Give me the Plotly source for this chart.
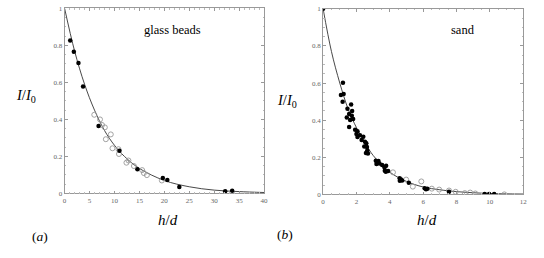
import plotly.graph_objects as go

# ---- panel (a): glass beads ----
a_filled_x = [1.12, 1.85, 2.78, 3.70, 6.81, 11.0, 14.6, 19.7, 20.6, 23.0, 32.2, 33.6]
a_filled_y = [0.827, 0.766, 0.705, 0.578, 0.365, 0.23, 0.131, 0.084, 0.072, 0.035, 0.012, 0.014]
a_open_x = [5.95, 7.1, 7.5, 8.07, 8.27, 9.26, 9.6, 10.8, 10.9, 12.4, 12.8, 13.9, 15.55, 15.9, 16.5, 19.5]
a_open_y = [0.425, 0.40, 0.37, 0.357, 0.293, 0.319, 0.244, 0.239, 0.213, 0.166, 0.178, 0.148, 0.126, 0.11, 0.099, 0.07]
a_fit_x = [0, 2, 4, 6, 8, 10, 12, 15, 20, 25, 30, 35, 40]
a_fit_y = [1.0, 0.77, 0.59, 0.45, 0.34, 0.26, 0.20, 0.135, 0.07, 0.036, 0.018, 0.01, 0.005]

# ---- panel (b): sand ----
b_filled_x = [0.0, 1.19, 1.07, 1.23, 1.17, 1.46, 1.68, 1.42, 1.56, 1.62, 1.56, 1.72, 1.74, 1.80,
              1.92, 2.06, 2.06, 2.00, 2.21, 2.31, 2.41, 2.51, 2.47, 2.59, 2.63, 2.65, 2.57, 2.69,
              3.16, 3.20, 3.38, 3.32, 3.54, 3.68, 3.70, 3.78, 3.76, 3.90, 4.59, 4.67, 4.74, 4.60,
              5.14, 6.09, 6.17, 6.25, 7.55, 9.69, 9.96, 10.26]
b_filled_y = [1.0, 0.602, 0.536, 0.541, 0.499, 0.462, 0.485, 0.415, 0.433, 0.401, 0.363, 0.424, 0.45, 0.407,
              0.349, 0.34, 0.309, 0.326, 0.319, 0.293, 0.311, 0.284, 0.258, 0.276, 0.255, 0.236, 0.223, 0.22,
              0.181, 0.164, 0.166, 0.18, 0.159, 0.145, 0.127, 0.154, 0.122, 0.126, 0.087, 0.08, 0.075, 0.073,
              0.063, 0.033, 0.028, 0.031, 0.014, 0.002, 0.002, 0.002]
b_open_x = [4.19, 4.98, 5.38, 5.89, 6.52, 6.96, 7.55, 7.95, 8.5, 8.82, 9.13, 10.87]
b_open_y = [0.119, 0.08, 0.042, 0.07, 0.031, 0.026, 0.021, 0.014, 0.007, 0.01, 0.005, 0.0]
b_fit_x = [0, 0.5, 1, 1.5, 2, 2.5, 3, 4, 5, 6, 7, 8, 10, 12]
b_fit_y = [1.0, 0.77, 0.60, 0.46, 0.36, 0.28, 0.21, 0.12, 0.07, 0.04, 0.025, 0.015, 0.005, 0.002]

a_xticks = [0, 5, 10, 15, 20, 25, 30, 35, 40]
b_xticks = [0, 2, 4, 6, 8, 10, 12]
y_ticks = [0, 0.2, 0.4, 0.6, 0.8, 1]
y_ticklabels = ["0", "0.2", "0.4", "0.6", "0.8", "1"]

SERIF = "Liberation Serif, DejaVu Serif, serif"

W, H = 544, 258
def X(px):
    return px / W
def Y(py):
    return 1 - py / H

fig = go.Figure()

def add_panel(fx, fy, ox, oy, cx, cy, xa, ya):
    fig.add_trace(go.Scatter(x=cx, y=cy, mode="lines", line=dict(color="#333333", width=0.9, shape="spline"),
                             xaxis=xa, yaxis=ya, showlegend=False, hoverinfo="skip"))
    fig.add_trace(go.Scatter(x=ox, y=oy, mode="markers",
                             marker=dict(symbol="circle-open", size=5, color="#999999", line=dict(width=0.9)),
                             xaxis=xa, yaxis=ya, showlegend=False))
    fig.add_trace(go.Scatter(x=fx, y=fy, mode="markers",
                             marker=dict(symbol="circle", size=4.5, color="black"),
                             xaxis=xa, yaxis=ya, showlegend=False))

add_panel(a_filled_x, a_filled_y, a_open_x, a_open_y, a_fit_x, a_fit_y, "x", "y")
add_panel(b_filled_x, b_filled_y, b_open_x, b_open_y, b_fit_x, b_fit_y, "x2", "y2")

axis_common = dict(showgrid=False, zeroline=False, showline=True, linecolor="#999999", linewidth=0.8,
                   mirror="ticks", ticks="inside", ticklen=3, tickcolor="#999999",
                   tickfont=dict(family=SERIF, size=7, color="#666666"))

def minor(d):
    return dict(ticks="inside", ticklen=1.5, tickcolor="#bbbbbb", dtick=d)

fig.update_layout(
    width=W, height=H, margin=dict(l=0, r=0, t=0, b=0),
    plot_bgcolor="white", paper_bgcolor="white",
    xaxis=dict(domain=[X(63.3), X(265)], range=[0, 40], tickvals=a_xticks, anchor="y",
               minor=minor(1), **axis_common),
    yaxis=dict(domain=[Y(195.5), Y(4.5)], range=[0, 1], tickvals=y_ticks, ticktext=y_ticklabels, anchor="x",
               minor=minor(0.05), **axis_common),
    xaxis2=dict(domain=[X(324.7), X(527)], range=[0, 12], tickvals=b_xticks, anchor="y2",
                minor=minor(0.5), **axis_common),
    yaxis2=dict(domain=[Y(196.5), Y(5)], range=[0, 1], tickvals=y_ticks, ticktext=y_ticklabels, anchor="x2",
                minor=minor(0.05), **axis_common),
)

def ann(text, x, y, size=13):
    fig.add_annotation(text=text, x=X(x), y=Y(y), xref="paper", yref="paper",
                       showarrow=False, xanchor="center", yanchor="middle",
                       font=dict(family=SERIF, size=size, color="black"))

ann("glass beads", 172, 27, 12.5)
ann("sand", 466, 27, 12.5)
ann("<i>I</i>/<i>I</i><sub>0</sub>", 24, 95, 14.5)
ann("<i>I</i>/<i>I</i><sub>0</sub>", 288, 100, 14.5)
ann("<i>h</i>/<i>d</i>", 168, 223, 15)
ann("<i>h</i>/<i>d</i>", 430, 223, 15)
ann("(<i>a</i>)", 38, 240, 13.5)
ann("(<i>b</i>)", 286, 238, 13.5)

fig.write_html("out.html", config={"displayModeBar": False},
               post_script="document.body.style.margin='0';document.body.style.overflow='hidden';")
